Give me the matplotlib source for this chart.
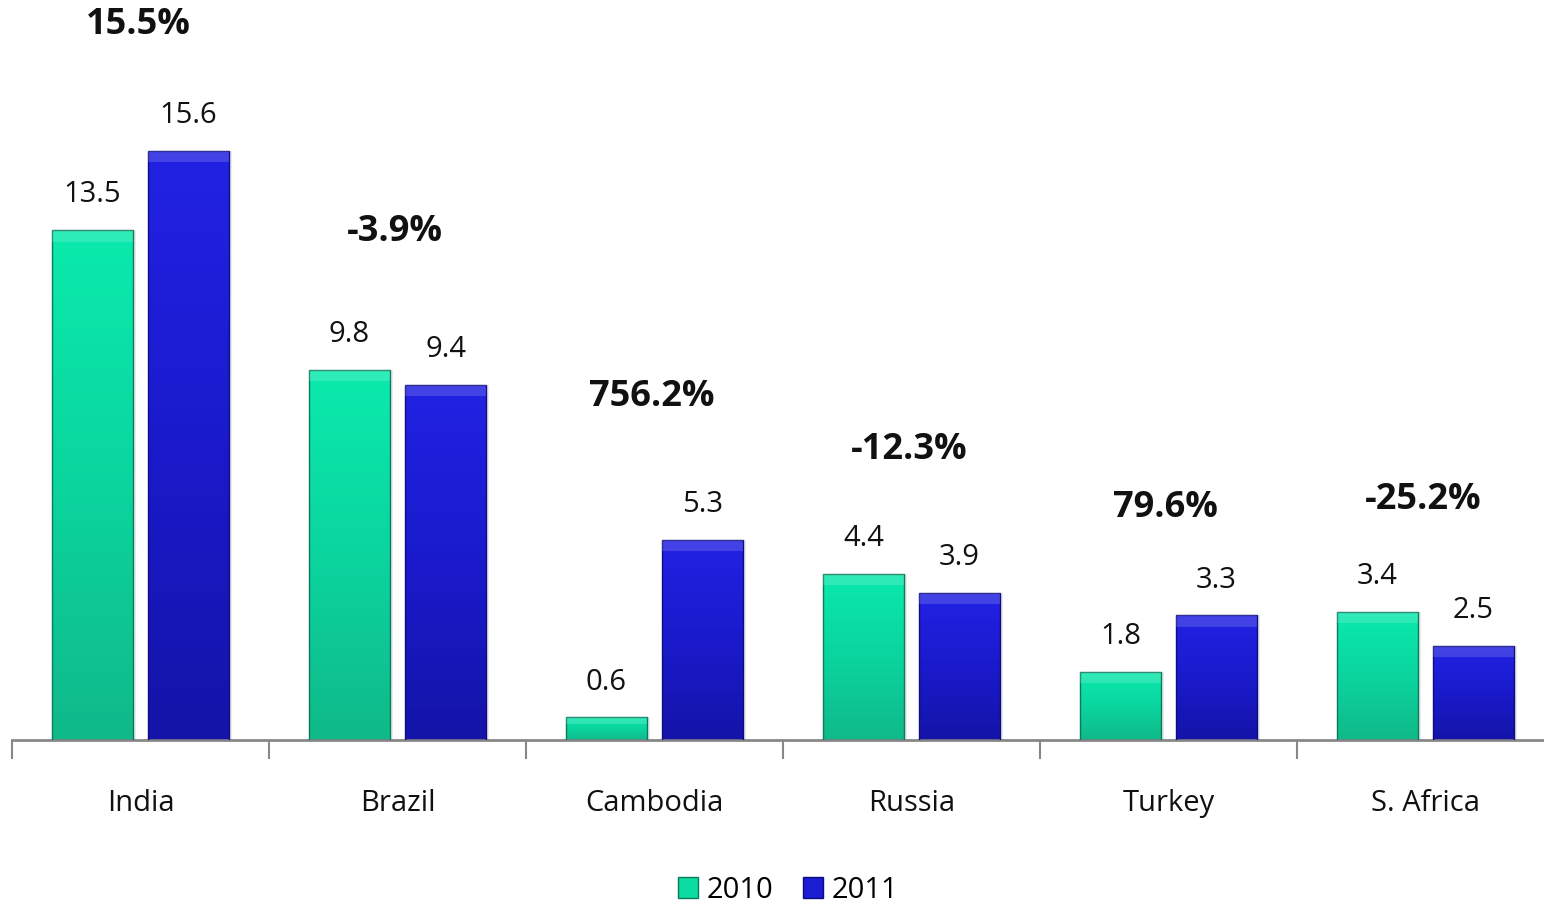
import numpy as np
import matplotlib.pyplot as plt
from matplotlib.colors import LinearSegmentedColormap
from matplotlib.patches import Patch

countries = ['India', 'Brazil', 'Cambodia', 'Russia', 'Turkey', 'S. Africa']
v2010 = [13.5, 9.8, 0.6, 4.4, 1.8, 3.4]
v2011 = [15.6, 9.4, 5.3, 3.9, 3.3, 2.5]
growth = ['15.5%', '-3.9%', '756.2%', '-12.3%', '79.6%', '-25.2%']
growth_y = [18.95, 13.45, 9.08, 7.68, 6.14, 6.36]

plt.rcParams['font.family'] = ['Open Sans', 'DejaVu Sans']

fig = plt.figure(figsize=(15.44, 9.07), dpi=100)
ax = fig.add_axes([12 / 1544, 167 / 907, 1542 / 1544, 740 / 907])
ax.set_xlim(0, 6)
ax.set_ylim(0, 19.6)

teal = LinearSegmentedColormap.from_list('teal', ['#10b98a', '#0bd59e', '#0aeaac'])
blue = LinearSegmentedColormap.from_list('blue', ['#1414a8', '#1a1acc', '#2222e4'])
grad = np.linspace(0, 1, 256).reshape(-1, 1)

w = 0.315
off = 0.187
x = np.arange(len(countries)) + 0.5


def draw_bars(xs, vals, cmap, edge):
    bars = ax.bar(xs, vals, width=w, color='none', edgecolor=edge, linewidth=1.0, zorder=3)
    for b in bars:
        x0, y0 = b.get_x(), b.get_y()
        im = ax.imshow(grad, extent=[x0, x0 + w, y0, y0 + b.get_height()],
                       origin='lower', aspect='auto', cmap=cmap, zorder=2)
        im.set_clip_path(b)
        # soft shadow on the right side
        ax.add_patch(plt.Rectangle((x0 + w, y0), 0.012, b.get_height(),
                                   color='#000000', alpha=0.08, lw=0, zorder=1))
        # top bevel highlight
        h = min(0.3, b.get_height() * 0.3)
        ax.add_patch(plt.Rectangle((x0, y0 + b.get_height() - h), w, h,
                                   color='white', alpha=0.15, lw=0, zorder=4))
    return bars


draw_bars(x - off, v2010, teal, '#0a7a5a')
draw_bars(x + off, v2011, blue, '#0d0d80')

for xi, a, b in zip(x, v2010, v2011):
    ax.annotate(f'{a}', (xi - off, a), xytext=(0, 15), textcoords='offset points',
                ha='center', va='bottom', fontsize=21, color='#111111')
    ax.annotate(f'{b}', (xi + off, b), xytext=(0, 15), textcoords='offset points',
                ha='center', va='bottom', fontsize=21, color='#111111')

for xi, g, gy in zip(x, growth, growth_y):
    ax.text(xi - 0.01, gy, g, ha='center', va='center', fontsize=26,
            fontweight='bold', color='#111111')

for side in ['top', 'right', 'left']:
    ax.spines[side].set_visible(False)
ax.spines['bottom'].set_color('#888888')
ax.spines['bottom'].set_linewidth(2)
ax.set_yticks([])
ax.set_xticks(np.arange(0, 7))
ax.set_xticklabels([])
ax.tick_params(axis='x', length=14, width=1.5, color='#888888', direction='out')
for xi, c in zip(x, countries):
    ax.text(xi, -1.67, c, ha='center', va='center', fontsize=21, color='#111111')

# legend
handles = [Patch(facecolor='#0cdca2', edgecolor='#0a7a5a'),
           Patch(facecolor='#1c1cd4', edgecolor='#0d0d80')]
fig.legend(handles, ['2010', '2011'], loc='center', bbox_to_anchor=(788 / 1544, 1 - 890 / 907),
           ncol=2, frameon=False, fontsize=21, handlelength=0.7, handleheight=0.7,
           handletextpad=0.3, columnspacing=1.0)

fig.savefig('out.png', dpi=100)
